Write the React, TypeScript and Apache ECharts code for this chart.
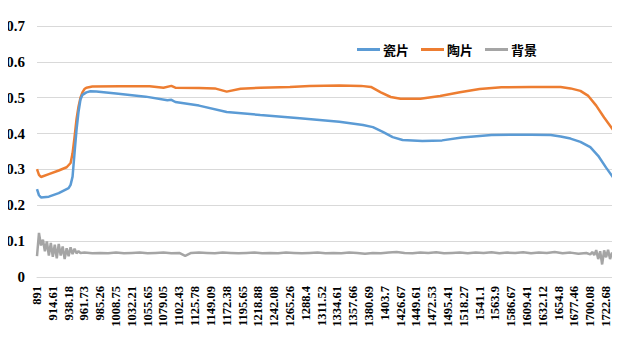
import React, { useEffect, useRef } from "react";
import * as echarts from "echarts";

const tickLabels: string[] = [
  "891", "914.61", "938.18", "961.73", "985.26", "1008.75", "1032.21", "1055.65",
  "1079.05", "1102.43", "1125.78", "1149.09", "1172.38", "1195.65", "1218.88",
  "1242.08", "1265.26", "1288.4", "1311.52", "1334.61", "1357.66", "1380.69",
  "1403.7", "1426.67", "1449.61", "1472.53", "1495.41", "1518.27", "1541.1",
  "1563.9", "1586.67", "1609.41", "1632.12", "1654.8", "1677.46", "1700.08", "1722.68",
];
const SUB = 8;
const EXTRA = 4;

// [point index, value]
const porcelain: [number, number][] = [
  [0, 0.245], [1, 0.228], [2, 0.222], [6, 0.224], [11, 0.234], [16, 0.248], [17, 0.257],
  [18, 0.28], [19, 0.346], [20, 0.41], [21, 0.46], [22, 0.495], [23, 0.508], [25, 0.515],
  [27, 0.518], [30, 0.517], [40, 0.512], [55, 0.503], [66, 0.493], [68, 0.494], [70, 0.488],
  [82, 0.478], [96, 0.46], [113, 0.452], [133, 0.443], [153, 0.433], [165, 0.424],
  [170, 0.418], [175, 0.405], [180, 0.39], [185, 0.382], [195, 0.379], [205, 0.381],
  [215, 0.389], [230, 0.396], [250, 0.397], [260, 0.396], [265, 0.392], [270, 0.386],
  [275, 0.377], [280, 0.362], [284, 0.338], [288, 0.305], [292, 0.274],
];
const pottery: [number, number][] = [
  [0, 0.301], [1, 0.285], [2, 0.279], [6, 0.287], [11, 0.297], [15, 0.306], [17, 0.318],
  [18, 0.345], [19, 0.39], [20, 0.44], [21, 0.475], [22, 0.5], [23, 0.515], [24, 0.524],
  [25, 0.528], [28, 0.531], [42, 0.532], [57, 0.532], [64, 0.528], [68, 0.533], [70, 0.528],
  [82, 0.527], [90, 0.526], [96, 0.517], [103, 0.525], [113, 0.528], [128, 0.53],
  [138, 0.533], [153, 0.534], [164, 0.533], [169, 0.53], [174, 0.515], [179, 0.502],
  [184, 0.497], [194, 0.497], [204, 0.505], [214, 0.515], [224, 0.524], [235, 0.529],
  [250, 0.53], [265, 0.53], [270, 0.526], [275, 0.519], [279, 0.505], [283, 0.478],
  [287, 0.445], [292, 0.407],
];
const background: [number, number][] = [
  [0, 0.058], [1, 0.123], [2, 0.088], [3, 0.104], [4, 0.072], [5, 0.099], [6, 0.06], [7, 0.095],
  [8, 0.056], [9, 0.09], [10, 0.052], [11, 0.092], [12, 0.06], [13, 0.085], [14, 0.05],
  [15, 0.08], [16, 0.058], [17, 0.083], [18, 0.064], [19, 0.079], [20, 0.066], [21, 0.072],
  [22, 0.067], [24, 0.068], [28, 0.066], [32, 0.067], [36, 0.066], [40, 0.068], [44, 0.066],
  [48, 0.067], [52, 0.068], [56, 0.066], [60, 0.067], [64, 0.068], [68, 0.066], [72, 0.067],
  [75, 0.059], [78, 0.067], [82, 0.068], [86, 0.067], [90, 0.066], [94, 0.068], [98, 0.067],
  [102, 0.066], [106, 0.067], [110, 0.068], [114, 0.066], [118, 0.067], [122, 0.066],
  [126, 0.068], [130, 0.067], [134, 0.066], [138, 0.067], [142, 0.068], [146, 0.066],
  [150, 0.067], [154, 0.066], [158, 0.068], [162, 0.067], [166, 0.065], [170, 0.067],
  [174, 0.066], [178, 0.068], [182, 0.07], [186, 0.067], [190, 0.066], [194, 0.068],
  [198, 0.067], [202, 0.069], [206, 0.066], [210, 0.067], [214, 0.068], [218, 0.066],
  [222, 0.068], [226, 0.067], [230, 0.069], [234, 0.066], [238, 0.068], [242, 0.067],
  [246, 0.069], [250, 0.066], [254, 0.068], [258, 0.067], [262, 0.07], [266, 0.066],
  [270, 0.068], [274, 0.065], [278, 0.067], [280, 0.063], [281, 0.07], [282, 0.061],
  [283, 0.075], [284, 0.05], [285, 0.072], [286, 0.035], [287, 0.074], [288, 0.055],
  [289, 0.076], [290, 0.05], [291, 0.068], [292, 0.056],
];

const seriesNames = ["瓷片", "陶片", "背景"];
const colors = ["#5b9bd5", "#ed7d31", "#a5a5a5"];

function buildCategories(): string[] {
  const cats: string[] = [];
  tickLabels.forEach((lab, j) => {
    cats.push(lab);
    const n = j < tickLabels.length - 1 ? SUB - 1 : EXTRA;
    for (let k = 0; k < n; k++) cats.push("_" + cats.length);
  });
  return cats;
}

export default function App() {
  const ref = useRef<HTMLDivElement>(null);
  useEffect(() => {
    if (!ref.current) return;
    const chart = echarts.init(ref.current, undefined, { renderer: "svg" });
    const cats = buildCategories();
    const lastLabelIdx = (tickLabels.length - 1) * SUB;
    const datasets = [porcelain, pottery, background];
    chart.setOption({
      animation: false,
      backgroundColor: "#ffffff",
      grid: { left: 37, right: 6, top: 26, bottom: 83, containLabel: false },
      legend: {
        left: 352,
        top: 38,
        icon: "rect",
        itemWidth: 23,
        itemHeight: 3,
        itemGap: 12,
        data: seriesNames,
        textStyle: {
          fontFamily: "Noto Sans CJK SC",
          fontWeight: "bold",
          fontSize: 13,
          color: "#000",
          padding: [0, 0, 0, -2],
        },
      },
      xAxis: {
        type: "category",
        data: cats,
        boundaryGap: false,
        axisLine: { show: true, lineStyle: { color: "#d9d9d9", width: 1 } },
        axisTick: { show: false },
        splitLine: { show: false },
        axisLabel: {
          rotate: 90,
          margin: 9,
          interval: (i: number) => i % SUB === 0 && i <= lastLabelIdx,
          fontFamily: "Liberation Serif",
          fontWeight: "bold",
          fontSize: 12.5,
          color: "#000",
        },
      },
      yAxis: {
        type: "value",
        min: 0,
        max: 0.7,
        interval: 0.1,
        axisLine: { show: false },
        axisTick: { show: false },
        splitLine: { lineStyle: { color: "#d9d9d9", width: 1 } },
        axisLabel: {
          margin: 12,
          fontFamily: "Liberation Serif",
          fontWeight: "bold",
          fontSize: 15,
          color: "#000",
          formatter: (v: number) => (v === 0 ? "0" : v.toFixed(1)),
        },
      },
      series: datasets.map((d, k) => ({
        name: seriesNames[k],
        type: "line",
        data: d,
        showSymbol: false,
        symbol: "none",
        lineStyle: { color: colors[k], width: 2.5 },
        itemStyle: { color: colors[k] },
        z: 3 - k,
      })),
    });
    return () => chart.dispose();
  }, []);
  return <div ref={ref} style={{ width: 620, height: 360, margin: -8 }} />;
}
